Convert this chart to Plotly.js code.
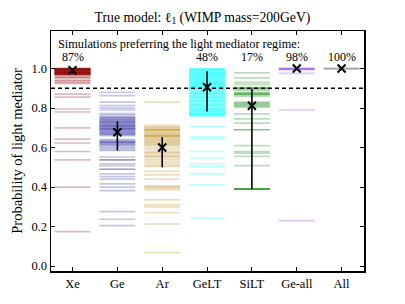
<!DOCTYPE html>
<html>
<head>
<meta charset="utf-8">
<script src="https://cdn.plot.ly/plotly-3.0.1.min.js"></script>
<style>html,body{margin:0;padding:0;background:#fff;}#chart{width:405px;height:304px;}</style>
</head>
<body>
<div id="chart"></div>
<script>
// ---- data ----
const categories = ["Xe", "Ge", "Ar", "GeLT", "SiLT", "Ge-all", "All"];
const lineColors = ["139,0,0", "40,40,160", "184,134,11", "0,255,255", "0,128,0", "138,43,226", "128,128,128"];
const percentLabels = ["87%", "", "", "48%", "17%", "98%", "100%"];
const threshold = 0.9;

const xeProb = [1.0,1.0,1.0,0.999,0.998,0.997,0.996,0.995,0.994,0.993,0.992,0.99,0.99,0.989,0.988,0.986,0.985,0.984,0.983,0.982,0.98,0.98,
  0.979,0.978,0.977,0.976,0.975,0.974,0.973,0.972,0.971,0.97,0.969,0.968,
  0.96,0.955,0.953,0.942,0.938,0.93,0.925,0.87,0.855,0.795,0.78,0.70,0.643,0.623,0.58,0.538,0.40,0.174];
const geProb = [0.88,0.863,0.83,0.812,0.80,0.79,0.772,0.764,
  0.755,0.752,0.75,0.745,0.742,0.74,0.735,0.733,0.73,0.728,0.725,0.72,0.72,0.715,0.71,0.71,0.708,0.705,0.70,0.698,0.695,0.695,0.69,0.688,0.685,0.68,0.678,0.675,0.67,0.668,0.665,0.66,
  0.64,0.635,0.63,0.628,0.625,0.625,0.62,0.615,0.612,0.605,0.598,0.59,0.585,
  0.552,0.538,0.538,0.518,0.508,0.49,0.49,0.467,0.453,0.44,0.416,0.40,0.382,0.276,0.237,0.205];
const arProb = [0.83,
  0.712,0.705,0.70,0.695,0.69,0.69,0.688,0.685,0.68,0.675,0.67,0.665,0.66,0.66,0.658,0.655,0.65,0.645,0.64,0.635,0.63,0.625,0.62,0.615,
  0.61,0.60,0.59,0.58,0.575,0.57,0.56,0.555,0.55,0.54,0.53,0.52,0.51,0.504,
  0.479,0.462,0.44,0.406,0.40,0.395,0.386,0.335,0.31,0.30,0.27,0.213,0.068];
const geltProb = [1.0,0.998,0.996,0.995,0.993,0.99,0.988,0.985,0.982,0.98,0.978,0.975,0.972,0.97,0.967,0.965,0.962,0.96,0.957,0.955,0.952,0.95,
  0.947,0.945,0.942,0.94,0.937,0.935,0.932,0.93,0.927,0.925,0.922,0.92,0.917,0.915,0.912,0.91,0.907,0.905,0.902,0.90,
  0.897,0.895,0.892,0.89,0.885,0.88,0.877,0.875,0.872,0.87,0.865,0.86,0.857,0.855,0.852,0.85,0.845,0.84,0.837,0.835,0.832,0.83,0.825,0.82,
  0.817,0.815,0.812,0.81,0.805,0.80,0.797,0.795,0.792,0.79,0.787,0.785,0.782,0.78,0.777,0.775,0.772,0.77,0.768,0.765,0.763,0.762,0.76,
  0.707,0.656,0.645,0.58,0.547,0.518,0.504,0.467,0.411,0.242];
const siltProb = [0.978,0.953,0.93,0.92,0.905,0.90,0.90,0.898,0.89,0.88,0.875,0.87,0.87,0.868,0.86,
  0.83,0.825,0.82,0.815,0.81,0.805,0.77,0.745,0.724,0.69,0.69,0.61,0.58,0.572,0.555,0.508,
  0.39,0.39,0.39,0.39,0.39,0.39];
const geallProb = [1.0,1.0,1.0,0.995,0.995,0.975,0.79,0.23];
const allProb = [1.0,1.0,1.0,1.0];
const probs = [xeProb, geProb, arProb, geltProb, siltProb, geallProb, allProb];

const medians = [0.991, 0.677, 0.60, 0.905, 0.812, 1.0, 1.0];
const errHi = [1.0, 0.733, 0.653, 0.986, 0.897, 1.0, 1.0];
const errLo = [0.975, 0.585, 0.50, 0.783, 0.39, 1.0, 1.0];

// ---- traces ----
const halfWidth = 0.4;
const traces = [];
probs.forEach((arr, i) => {
  arr.forEach(v => {
    traces.push({
      x: [i - halfWidth, i + halfWidth], y: [v, v],
      type: "scatter", mode: "lines",
      line: {color: "rgba(" + lineColors[i] + ",0.27)", width: 1.7},
      hoverinfo: "skip", showlegend: false
    });
  });
});
const idx = categories.map((c, i) => i);
traces.push({
  x: idx, y: medians, type: "scatter", mode: "markers",
  marker: {symbol: "x-thin", size: 8, color: "black", line: {color: "black", width: 2}},
  error_y: {type: "data", symmetric: false,
    array: medians.map((m, i) => errHi[i] - m),
    arrayminus: medians.map((m, i) => m - errLo[i]),
    color: "black", thickness: 1.6, width: 0},
  showlegend: false
});

const serif = "Liberation Serif, Times New Roman, serif";
const annotations = [];
percentLabels.forEach((t, i) => {
  if (t) annotations.push({
    x: i, y: 1.06, xref: "x", yref: "y", text: t, showarrow: false,
    font: {family: serif, size: 12, color: "black"}
  });
});
annotations.push({
  x: 0.015, y: 1.125, xref: "paper", yref: "y", xanchor: "left",
  text: "Simulations preferring the light mediator regime:", showarrow: false,
  font: {family: serif, size: 12.3, color: "black"}
});

const layout = {
  width: 405, height: 304,
  margin: {l: 51, r: 41, t: 31, b: 33, pad: 0},
  paper_bgcolor: "white", plot_bgcolor: "white",
  title: {text: "True model: \u2113<sub>1</sub> (WIMP mass=200GeV)", x: 0.5, xanchor: "center", y: 0.945, yanchor: "middle",
    font: {family: serif, size: 13.7, color: "black"}},
  xaxis: {range: [-0.48, 6.5], tickvals: idx, ticktext: categories, showgrid: false, zeroline: false,
    showline: true, linecolor: "black", linewidth: 1.5, mirror: "ticks", ticks: "inside", ticklen: 4, tickcolor: "black",
    tickfont: {family: serif, size: 12.5, color: "black"}},
  yaxis: {range: [-0.025, 1.19], tickvals: [0, 0.2, 0.4, 0.6, 0.8, 1.0], tickformat: ".1f", showgrid: false, zeroline: false,
    showline: true, linecolor: "black", linewidth: 1.5, mirror: "ticks", ticks: "inside", ticklen: 4, tickcolor: "black",
    tickfont: {family: serif, size: 12.5, color: "black"},
    title: {text: "Probability of light mediator", font: {family: serif, size: 14.5, color: "black"}, standoff: 5}},
  shapes: [{type: "line", xref: "paper", x0: 0, x1: 1, yref: "y", y0: threshold, y1: threshold,
    line: {color: "black", width: 1.4, dash: "4px,3px"}}],
  annotations: annotations
};

Plotly.newPlot("chart", traces, layout, {displayModeBar: false, staticPlot: true});
</script>
</body>
</html>
